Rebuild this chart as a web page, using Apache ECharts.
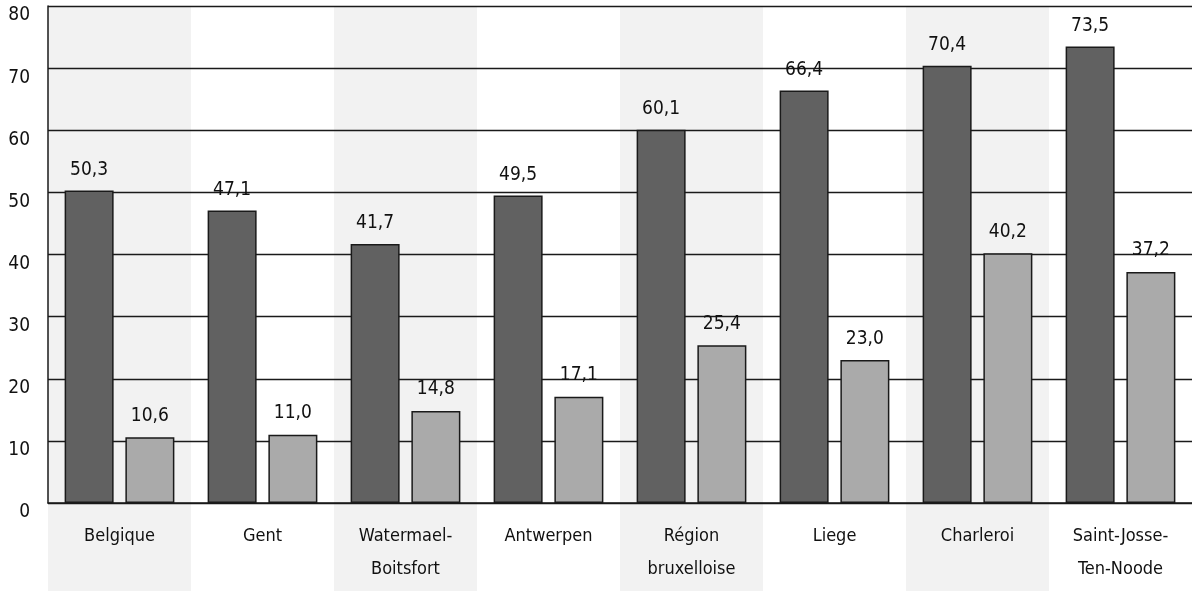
<!DOCTYPE html>
<html>
<head>
<meta charset="utf-8">
<script src="https://cdn.jsdelivr.net/npm/echarts@6/dist/echarts.min.js"></script>
<style>
  html, body { margin: 0; padding: 0; background: #fff; }
  #main { width: 1192px; height: 591px; }
</style>
</head>
<body>
<div id="main"></div>
<script>
var categories = ['Belgique', 'Gent', 'Watermael-\nBoitsfort', 'Antwerpen', 'Région\nbruxelloise', 'Liege', 'Charleroi', 'Saint-Josse-\nTen-Noode'];
var darkValues = [50.3, 47.1, 41.7, 49.5, 60.1, 66.4, 70.4, 73.5];
var lightValues = [10.6, 11.0, 14.8, 17.1, 25.4, 23.0, 40.2, 37.2];
var yTicks = { min: 0, max: 80, interval: 10 };

var fontFamily = "'Liberation Sans Narrow', 'DejaVu Sans Condensed', sans-serif";

var chartDom = document.getElementById('main');
var myChart = echarts.init(chartDom);
var option;

function fmt(p) {
    return p.value.toFixed(1).replace('.', ',');
}

option = {
    animation: false,
    textStyle: { fontFamily: fontFamily },
    grid: [
        { left: 48, right: 0, top: 6, bottom: 88 },
        { left: 48, right: 0, top: 6, bottom: 0 }
    ],
    xAxis: [
        {
            type: 'category',
            gridIndex: 0,
            data: categories,
            axisLine: { lineStyle: { color: '#1a1a1a', width: 1.5 } },
            axisTick: { show: false },
            axisLabel: {
                color: '#111',
                fontSize: 18,
                lineHeight: 33,
                margin: 17,
                fontFamily: fontFamily
            }
        },
        {
            type: 'category',
            gridIndex: 1,
            z: -1,
            data: categories,
            axisLine: { show: false },
            axisTick: { show: false },
            axisLabel: { show: false },
            splitArea: { show: true, areaStyle: { color: ['#f2f2f2', '#ffffff'] } }
        }
    ],
    yAxis: [
        {
            type: 'value',
            gridIndex: 0,
            min: yTicks.min,
            max: yTicks.max,
            interval: yTicks.interval,
            axisLine: { show: true, lineStyle: { color: '#1a1a1a', width: 1.5 } },
            axisTick: { show: false },
            axisLabel: {
                color: '#111',
                fontSize: 19,
                margin: 18,
                verticalAlign: 'top',
                fontFamily: fontFamily
            },
            splitLine: { lineStyle: { color: '#1a1a1a', width: 1.3 } }
        },
        {
            type: 'value',
            gridIndex: 1,
            show: false,
            min: 0,
            max: 1
        }
    ],
    series: [
        {
            name: 'dark',
            type: 'bar',
            xAxisIndex: 0,
            yAxisIndex: 0,
            data: darkValues,
            barWidth: 49,
            barGap: '24%',
            itemStyle: { color: '#616161', borderColor: '#1a1a1a', borderWidth: 1.5 },
            label: {
                show: true,
                position: 'top',
                distance: 11,
                color: '#111',
                fontSize: 19,
                fontFamily: fontFamily,
                formatter: fmt
            }
        },
        {
            name: 'light',
            type: 'bar',
            xAxisIndex: 0,
            yAxisIndex: 0,
            data: lightValues,
            barWidth: 49,
            itemStyle: { color: '#aaaaaa', borderColor: '#1a1a1a', borderWidth: 1.5 },
            label: {
                show: true,
                position: 'top',
                distance: 12,
                color: '#111',
                fontSize: 19,
                fontFamily: fontFamily,
                formatter: fmt
            }
        }
    ]
};

option && myChart.setOption(option);
</script>
</body>
</html>
